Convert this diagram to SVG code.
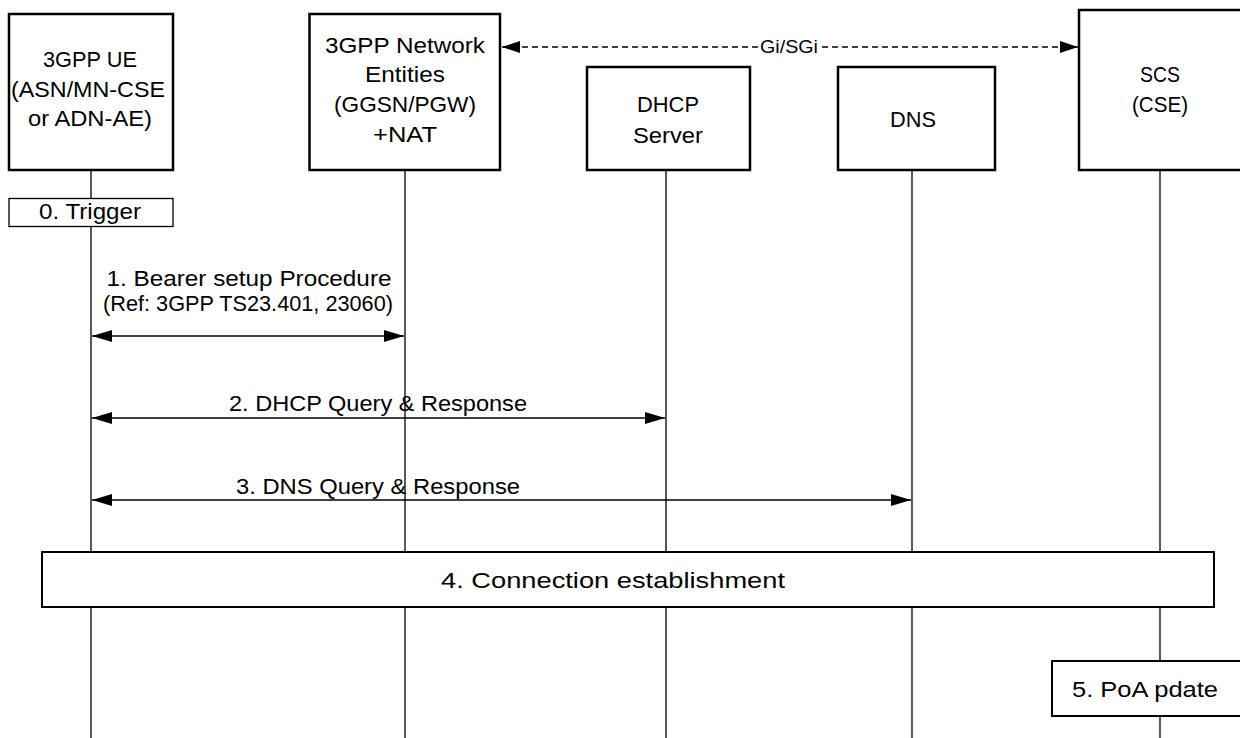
<svg xmlns="http://www.w3.org/2000/svg" width="1240" height="738" viewBox="0 0 1240 738">
<style>
text{font-family:"Liberation Sans",Arial,sans-serif;fill:#000;text-anchor:middle}
.lbl{font-size:22px}
.msg{font-size:22px}
.node{fill:#fff;stroke:#000;stroke-width:2.5}
.life{stroke:#000;stroke-width:1.3;fill:none}
.act{fill:#fff;stroke:#000;stroke-width:1.3}
.big{fill:#fff;stroke:#000;stroke-width:2}
.arr{stroke:#000;stroke-width:1.6;fill:none;marker-start:url(#hs);marker-end:url(#he)}
.dash{stroke:#000;stroke-width:1.6;fill:none;stroke-dasharray:6 4;marker-start:url(#hs2);marker-end:url(#he2)}
</style>
<defs>
<marker id="he" viewBox="0 0 20 12" refX="20" refY="6" markerWidth="20" markerHeight="12" markerUnits="userSpaceOnUse" orient="auto"><path d="M0,0 L20,6 L0,12 Z" fill="#000"/></marker>
<marker id="hs" viewBox="0 0 20 12" refX="0" refY="6" markerWidth="20" markerHeight="12" markerUnits="userSpaceOnUse" orient="auto"><path d="M20,0 L0,6 L20,12 Z" fill="#000"/></marker>
<marker id="he2" viewBox="0 0 18 12" refX="18" refY="6" markerWidth="18" markerHeight="12" markerUnits="userSpaceOnUse" orient="auto"><path d="M0,0 L18,6 L0,12 Z" fill="#000"/></marker>
<marker id="hs2" viewBox="0 0 18 12" refX="0" refY="6" markerWidth="18" markerHeight="12" markerUnits="userSpaceOnUse" orient="auto"><path d="M18,0 L0,6 L18,12 Z" fill="#000"/></marker>
</defs>
<rect width="1240" height="738" fill="#fff"/>
<g id="lifelines">
<line class="life" x1="91" y1="170" x2="91" y2="738"/>
<line class="life" x1="405" y1="170" x2="405" y2="738"/>
<line class="life" x1="666" y1="170" x2="666" y2="738"/>
<line class="life" x1="912" y1="170" x2="912" y2="738"/>
<line class="life" x1="1160" y1="170" x2="1160" y2="738"/>
</g>
<g id="ue">
<rect class="node" x="9" y="14" width="164" height="156"/>
<text class="lbl" x="90" y="67" textLength="94" lengthAdjust="spacingAndGlyphs">3GPP UE</text>
<text class="lbl" x="88" y="97" textLength="154" lengthAdjust="spacingAndGlyphs">(ASN/MN-CSE</text>
<text class="lbl" x="90" y="126" textLength="124" lengthAdjust="spacingAndGlyphs">or ADN-AE)</text>
</g>
<g id="network">
<rect class="node" x="309.5" y="14" width="190.5" height="156"/>
<text class="lbl" x="405" y="53" textLength="160" lengthAdjust="spacingAndGlyphs">3GPP Network</text>
<text class="lbl" x="405" y="82" textLength="80" lengthAdjust="spacingAndGlyphs">Entities</text>
<text class="lbl" x="405" y="112" textLength="142" lengthAdjust="spacingAndGlyphs">(GGSN/PGW)</text>
<text class="lbl" x="405" y="142" textLength="64" lengthAdjust="spacingAndGlyphs">+NAT</text>
</g>
<g id="dhcp">
<rect class="node" x="587" y="67" width="163" height="103"/>
<text class="lbl" x="668" y="112" textLength="62" lengthAdjust="spacingAndGlyphs">DHCP</text>
<text class="lbl" x="668" y="143" textLength="70" lengthAdjust="spacingAndGlyphs">Server</text>
</g>
<g id="dns">
<rect class="node" x="838" y="67" width="157" height="103"/>
<text class="lbl" x="913" y="127" textLength="46" lengthAdjust="spacingAndGlyphs">DNS</text>
</g>
<g id="scs">
<rect class="node" x="1079" y="10" width="170" height="160"/>
<text class="lbl" x="1160" y="82" textLength="40" lengthAdjust="spacingAndGlyphs">SCS</text>
<text class="lbl" x="1160" y="112" textLength="56" lengthAdjust="spacingAndGlyphs">(CSE)</text>
</g>
<g id="step0">
<rect class="act" x="9" y="198.5" width="164" height="28"/>
<text class="msg" x="90" y="219" textLength="102" lengthAdjust="spacingAndGlyphs">0. Trigger</text>
</g>
<g id="connectors">
<line class="dash" x1="502" y1="47" x2="1078" y2="47"/>
<rect x="758" y="38" width="62" height="18" fill="#fff"/>
<text x="789" y="53" font-size="18" textLength="58" lengthAdjust="spacingAndGlyphs">Gi/SGi</text>
<line class="arr" x1="92" y1="336" x2="404" y2="336"/>
<text class="msg" x="249" y="286" textLength="285" lengthAdjust="spacingAndGlyphs">1. Bearer setup Procedure</text>
<text class="msg" x="248" y="311" textLength="290" lengthAdjust="spacingAndGlyphs">(Ref: 3GPP TS23.401, 23060)</text>
<line class="arr" x1="92" y1="418" x2="665" y2="418"/>
<text class="msg" x="378" y="411" textLength="298" lengthAdjust="spacingAndGlyphs">2. DHCP Query &amp; Response</text>
<line class="arr" x1="92" y1="500" x2="911" y2="500"/>
<text class="msg" x="378" y="494" textLength="284" lengthAdjust="spacingAndGlyphs">3. DNS Query &amp; Response</text>
</g>
<g id="step4">
<rect class="big" x="42" y="552" width="1172" height="55"/>
<text class="msg" x="613" y="588" textLength="344" lengthAdjust="spacingAndGlyphs">4. Connection establishment</text>
</g>
<g id="step5">
<rect class="big" x="1052" y="661" width="200" height="55"/>
<text class="msg" x="1145" y="697" textLength="146" lengthAdjust="spacingAndGlyphs">5. PoA pdate</text>
</g>
</svg>
